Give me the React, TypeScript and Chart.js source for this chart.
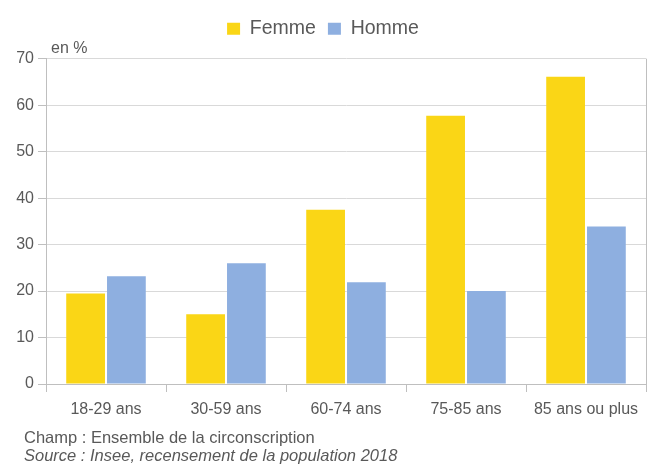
import React, { useEffect, useRef } from "react";
import { Chart, registerables } from "chart.js";

Chart.register(...registerables);

const categories = ["18-29 ans", "30-59 ans", "60-74 ans", "75-85 ans", "85 ans ou plus"];
const femme = [19.5, 15.0, 37.5, 57.7, 66.1];
const homme = [23.2, 26.0, 21.9, 20.0, 33.9];
const yTicks = [0, 10, 20, 30, 40, 50, 60, 70];
const unitLabel = "en %";
const footerChamp = "Champ : Ensemble de la circonscription";
const footerSource = "Source : Insee, recensement de la population 2018";

const TEXT = "#595959";
const AXIS = "#bfbfbf";
const GRID = "#d9d9d9";
const FONT = "'Liberation Sans', Arial, sans-serif";

export default function App() {
  const ref = useRef<HTMLCanvasElement | null>(null);
  useEffect(() => {
    if (!ref.current) return;
    const extras = {
      id: "extras",
      afterDraw(chart: any) {
        const { ctx, chartArea } = chart;
        ctx.save();
        ctx.strokeStyle = AXIS;
        ctx.lineWidth = 1;
        ctx.beginPath();
        ctx.moveTo(Math.round(chartArea.right) + 0.5, chartArea.top);
        ctx.lineTo(Math.round(chartArea.right) + 0.5, chartArea.bottom);
        ctx.stroke();
        ctx.fillStyle = TEXT;
        ctx.font = `16px ${FONT}`;
        ctx.textBaseline = "alphabetic";
        ctx.textAlign = "left";
        ctx.fillText(unitLabel, chartArea.left + 5, chartArea.top - 6);
        ctx.restore();
      },
    };
    const chart = new Chart(ref.current, {
      type: "bar",
      data: {
        labels: categories,
        datasets: [
          { label: "Femme", data: femme, backgroundColor: "#FAD616", categoryPercentage: 0.68, barPercentage: 0.95 },
          { label: "Homme", data: homme, backgroundColor: "#8EAFE0", categoryPercentage: 0.68, barPercentage: 0.95 },
        ],
      },
      options: {
        animation: false,
        responsive: false,
        layout: { padding: { left: 0, right: 8, top: 7, bottom: 0 } },
        plugins: {
          tooltip: { enabled: false },
          title: {
            display: true,
            text: "",
            weight: 100,
            font: { size: 1 },
            padding: { top: 0, bottom: 9 },
          },
          legend: {
            position: "top",
            labels: {
              boxWidth: 13,
              boxHeight: 12,
              color: TEXT,
              font: { family: FONT, size: 19.5 },
              padding: 12,
            },
          },
        },
        scales: {
          x: {
            afterFit: (axis: any) => {
              axis.height = 80;
            },
            grid: { drawOnChartArea: false, color: AXIS, tickLength: 8 },
            border: { color: AXIS },
            ticks: { color: TEXT, font: { family: FONT, size: 16 }, padding: 8 },
          },
          y: {
            min: 0,
            max: 70,
            afterFit: (axis: any) => {
              axis.width = 46;
            },
            afterBuildTicks: (axis: any) => {
              axis.ticks = yTicks.map((v) => ({ value: v }));
            },
            grid: { color: GRID, tickColor: AXIS, tickLength: 8 },
            border: { color: AXIS },
            ticks: { color: TEXT, font: { family: FONT, size: 16 }, padding: 4 },
          },
        },
      },
      plugins: [extras],
    });
    return () => chart.destroy();
  }, []);
  return (
    <div style={{ position: "fixed", left: 0, top: 0, width: 654, height: 464, background: "#fff" }}>
      <canvas ref={ref} width={654} height={464} style={{ width: 654, height: 464, display: "block" }} />
      <div
        style={{
          position: "absolute",
          left: 24,
          top: 428,
          fontFamily: FONT,
          fontSize: 16.5,
          lineHeight: "18px",
          color: TEXT,
        }}
      >
        <div>{footerChamp}</div>
        <div style={{ fontStyle: "italic" }}>{footerSource}</div>
      </div>
    </div>
  );
}
